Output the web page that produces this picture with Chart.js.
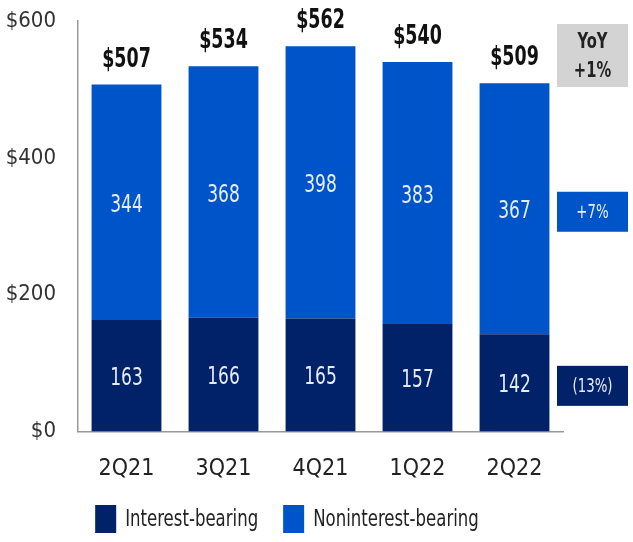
<!DOCTYPE html>
<html>
<head>
<meta charset="utf-8">
<script src="https://cdn.jsdelivr.net/npm/chart.js@4"></script>
<style>
  body { margin: 0; background: #fff; }
  #wrap { width: 633px; height: 542px; position: relative; }
</style>
</head>
<body>
<div id="wrap"><canvas id="myChart"></canvas></div>
<script>
const quarters = ['2Q21', '3Q21', '4Q21', '1Q22', '2Q22'];
const seriesNames = ['Interest-bearing', 'Noninterest-bearing'];
const interestBearing = [163, 166, 165, 157, 142];
const noninterestBearing = [344, 368, 398, 383, 367];
const totals = [507, 534, 562, 540, 509];
const yoyInterest = '(13%)';
const yoyNoninterest = '+7%';
const yoyTotal = '+1%';

const FONT = "'DejaVu Sans Condensed', 'Liberation Sans Narrow', 'Open Sans', sans-serif";
const NAVY = '#012169';
const BLUE = '#0054c9';
const LIGHT = '#e6ecf8';

// text squeezed horizontally, the original uses a condensed face
function squeezed(ctx, text, x, y, font, color, sx) {
  ctx.save();
  ctx.font = font;
  ctx.fillStyle = color;
  ctx.translate(x, y);
  ctx.scale(sx, 1);
  ctx.fillText(text, 0, 0);
  ctx.restore();
}

const barLabels = {
  id: 'barLabels',
  afterDatasetsDraw(chart) {
    const ctx = chart.ctx;
    const area = chart.chartArea;
    ctx.save();
    ctx.textAlign = 'center';
    ctx.textBaseline = 'middle';

    chart.data.datasets.forEach((ds, i) => {
      chart.getDatasetMeta(i).data.forEach((bar, j) => {
        squeezed(ctx, String(ds.data[j]), bar.x, (bar.y + bar.base) / 2 + 3, '25px ' + FONT, LIGHT, 0.76);
      });
    });

    // totals on top of each stack
    chart.getDatasetMeta(1).data.forEach((bar, j) => {
      squeezed(ctx, '$' + totals[j], bar.x, bar.y - 25, 'bold 27px ' + FONT, '#111', 0.72);
    });

    // YoY boxes at the right
    const bx = area.right - 6;
    const bw = 71;
    const last = quarters.length - 1;
    const segs = [
      { bar: chart.getDatasetMeta(0).data[last], color: NAVY, text: yoyInterest },
      { bar: chart.getDatasetMeta(1).data[last], color: BLUE, text: yoyNoninterest }
    ];
    segs.forEach(s => {
      const cy = (s.bar.y + s.bar.base) / 2 + 3;
      ctx.fillStyle = s.color;
      ctx.fillRect(bx, cy - 20, bw, 40);
      squeezed(ctx, s.text, bx + bw / 2, cy + 1, '19px ' + FONT, LIGHT, 0.78);
    });

    ctx.fillStyle = '#d3d3d3';
    ctx.fillRect(bx, 24, bw, 63);
    squeezed(ctx, 'YoY', bx + bw / 2, 43, 'bold 21px ' + FONT, '#222', 0.78);
    squeezed(ctx, yoyTotal, bx + bw / 2, 72, 'bold 21px ' + FONT, '#222', 0.78);

    // legend
    const colors = [NAVY, BLUE];
    const lf = '23px ' + FONT;
    const sx = 0.8;
    ctx.font = lf;
    const widths = seriesNames.map(n => ctx.measureText(n).width * sx);
    const total = 21 + 9 + widths[0] + 25 + 21 + 9 + widths[1];
    let x = 287 - total / 2;
    ctx.textAlign = 'left';
    seriesNames.forEach((n, i) => {
      ctx.fillStyle = colors[i];
      ctx.fillRect(x, 505, 21, 28);
      x += 30;
      squeezed(ctx, n, x, 520, lf, '#222', sx);
      x += widths[i] + 25;
    });
    ctx.restore();
  }
};

const ctx = document.getElementById('myChart').getContext('2d');
new Chart(ctx, {
  type: 'bar',
  data: {
    labels: quarters,
    datasets: [
      {
        label: seriesNames[0],
        data: interestBearing,
        backgroundColor: NAVY,
        categoryPercentage: 0.72,
        barPercentage: 1
      },
      {
        label: seriesNames[1],
        data: noninterestBearing,
        backgroundColor: BLUE,
        categoryPercentage: 0.72,
        barPercentage: 1
      }
    ]
  },
  options: {
    responsive: true,
    maintainAspectRatio: false,
    animation: false,
    layout: { padding: { top: 21, right: 70, bottom: 43, left: 0 } },
    plugins: {
      tooltip: { enabled: false },
      legend: { display: false }
    },
    scales: {
      x: {
        stacked: true,
        grid: { display: false },
        border: { color: '#999', width: 1.5 },
        ticks: { color: '#222', padding: 16, font: { family: FONT, size: 23 } }
      },
      y: {
        stacked: true,
        min: 0,
        max: 600,
        afterFit: s => { s.width = 78; s.paddingTop = 0; s.paddingBottom = 0; },
        grid: { display: false, drawTicks: false },
        border: { color: '#999', width: 1.5 },
        ticks: {
          stepSize: 200,
          color: '#333',
          padding: 22,
          font: { family: FONT, size: 22 },
          callback: v => '$' + v
        }
      }
    }
  },
  plugins: [barLabels]
});
</script>
</body>
</html>
